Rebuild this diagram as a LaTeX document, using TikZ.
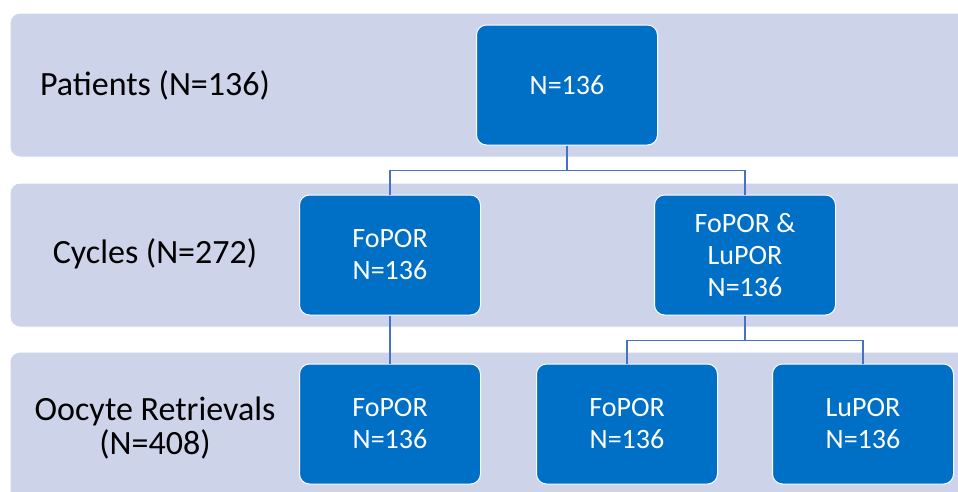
\documentclass[tikz,border=0pt]{standalone}
\usepackage{fontspec}
\setmainfont{Carlito}
\definecolor{bandfill}{HTML}{CDD4EA}
\definecolor{boxfill}{HTML}{0070C6}
\definecolor{linkcol}{HTML}{4472C4}

\begin{document}
\begin{tikzpicture}[x=1pt,y=-1pt,
    band/.style={fill=bandfill, draw=white, line width=1pt, rounded corners=10pt},
    box/.style={draw=white, line width=1pt, fill=boxfill, rounded corners=10pt,
        minimum width=181pt, minimum height=120pt, text=white, align=center,
        font=\fontsize{28}{32}\selectfont},
    lbl/.style={align=center, font=\fontsize{34}{34}\selectfont},
    link/.style={draw=linkcol, line width=1.3pt}]
    \useasboundingbox (0,0) rectangle (958,491);
    \clip (0,0) rectangle (958,491);

    % background bands
    \draw[band] (10,13) rectangle (975,157);
    \draw[band] (10,183) rectangle (975,327);
    \draw[band] (10,352) rectangle (975,505);

    % band labels
    \node[lbl] (patients) at (155,85) {Patients (N=136)};
    \node[lbl] (cycles) at (155,254) {Cycles (N=272)};
    \node[lbl] (retrievals) at (155,428) {Oocyte Retrievals\\(N=408)};

    % boxes
    \node[box] (top) at (567,85) {N=136};
    \node[box] (cfo) at (390,255) {FoPOR\\N=136};
    \node[box] (cfl) at (745,255) {FoPOR \&\\LuPOR\\N=136};
    \node[box] (rfo) at (390,424) {FoPOR\\N=136};
    \node[box] (rfo2) at (627,424) {FoPOR\\N=136};
    \node[box] (rlu) at (863,424) {LuPOR\\N=136};

    % connectors
    \draw[link] (top.south) -- ++(0,25) -| (cfo.north);
    \draw[link] (top.south) -- ++(0,25) -| (cfl.north);
    \draw[link] (cfo.south) -- (rfo.north);
    \draw[link] (cfl.south) -- ++(0,25) -| (rfo2.north);
    \draw[link] (cfl.south) -- ++(0,25) -| (rlu.north);
\end{tikzpicture}
\end{document}
